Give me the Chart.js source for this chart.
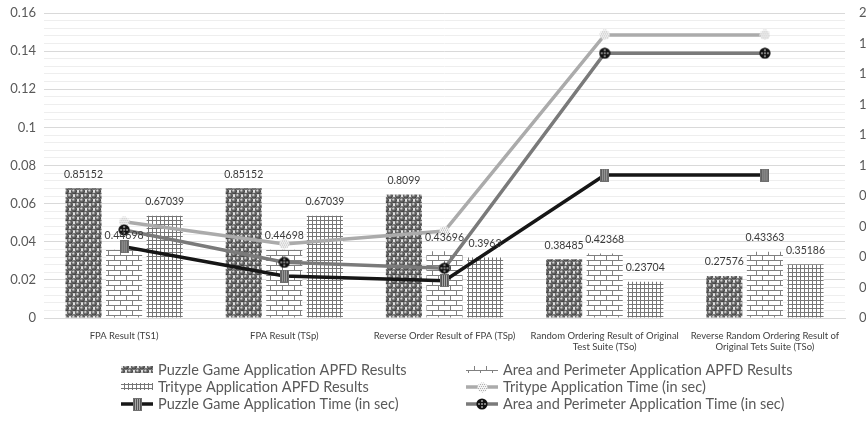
<!DOCTYPE html>
<html>
<head>
<meta charset="utf-8">
<script src="https://cdn.jsdelivr.net/npm/chart.js@4.4.1/dist/chart.umd.min.js"></script>
<style>
  html, body { margin: 0; padding: 0; background: #fff; overflow: hidden; width: 866px; height: 424px; }
  #wrap { position: relative; width: 892px; height: 424px; }
</style>
</head>
<body>
<div id="wrap"><canvas id="c" width="892" height="424"></canvas></div>
<script>
// ---- data ----
const categories = [
  'FPA Result (TS1)',
  'FPA Result (TSp)',
  'Reverse Order Result of FPA (TSp)',
  ['Random Ordering Result of Original', 'Test Suite (TSo)'],
  ['Reverse Random Ordering Result of', 'Original Tets Suite (TSo)']
];
// APFD results (right axis)
const puzzleApfd  = [0.85152, 0.85152, 0.8099, 0.38485, 0.27576];
const areaApfd    = [0.44698, 0.44698, 0.43696, 0.42368, 0.43363];
const tritypeApfd = [0.67039, 0.67039, 0.3963, 0.23704, 0.35186];
// execution times in seconds (left axis)
const tritypeTime = [0.0505, 0.0388, 0.0456, 0.1485, 0.1485];
const puzzleTime  = [0.0374, 0.0220, 0.0196, 0.0750, 0.0750];
const areaTime    = [0.0462, 0.0292, 0.0261, 0.1389, 0.1389];
// axis ranges
const timeAxis = { min: 0, max: 0.16, step: 0.02, minorStep: 0.004 };
const apfdAxis = { min: 0, max: 2, step: 0.2 };

const FONT = 'Lato, "Open Sans", sans-serif';

// ---- fill patterns and marker images ----
function tile(w, h, draw) {
  const c = document.createElement('canvas');
  c.width = w; c.height = h;
  draw(c.getContext('2d'), w, h);
  return c;
}
const ctx = document.getElementById('c').getContext('2d');

const ballTile = tile(8, 9, (g) => {
  g.fillStyle = '#e2e2e2';
  g.fillRect(0, 0, 8, 9);
  const centres = [[2, 2.25], [6, 6.75]];
  centres.forEach(([cx, cy]) => {
    for (const dx of [-8, 0, 8]) for (const dy of [-9, 0, 9]) {
      const x = cx + dx, y = cy + dy;
      const gr = g.createRadialGradient(x - 0.9, y - 1, 0.2, x, y, 3.1);
      gr.addColorStop(0, '#e8e8e8');
      gr.addColorStop(0.4, '#787878');
      gr.addColorStop(1, '#2a2a2a');
      g.fillStyle = gr;
      g.beginPath(); g.arc(x, y, 2.9, 0, Math.PI * 2); g.fill();
    }
  });
});
const brickTile = tile(12, 10, (g) => {
  g.fillStyle = '#fff'; g.fillRect(0, 0, 12, 10);
  g.fillStyle = '#808080';
  g.fillRect(0, 0, 12, 1);
  g.fillRect(0, 5, 12, 1);
  g.fillRect(0, 0, 1, 5);
  g.fillRect(6, 5, 1, 5);
});
const gridTile = tile(4, 4, (g) => {
  g.fillStyle = '#fff'; g.fillRect(0, 0, 4, 4);
  g.fillStyle = '#767676';
  g.fillRect(0, 0, 4, 1);
  g.fillRect(0, 0, 1, 4);
});
const ballFill  = ctx.createPattern(ballTile, 'repeat');
const brickFill = ctx.createPattern(brickTile, 'repeat');
const gridFill  = ctx.createPattern(gridTile, 'repeat');

const triMarker = tile(11, 11, (g) => {
  g.save();
  g.beginPath(); g.arc(5.5, 5.5, 5, 0, Math.PI * 2); g.clip();
  g.fillStyle = '#f4f4f4'; g.fillRect(0, 0, 11, 11);
  g.fillStyle = '#b0b0b0';
  for (let y = 0; y < 11; y += 2) for (let x = (y / 2) % 2; x < 11; x += 2) g.fillRect(x, y, 1, 1);
  g.restore();
});
const areaMarker = tile(12, 12, (g) => {
  g.fillStyle = '#111';
  g.beginPath(); g.arc(6, 6, 5.6, 0, Math.PI * 2); g.fill();
  g.fillStyle = '#9a9a9a';
  [[6, 3], [3, 6], [9, 6], [6, 9], [6, 6]].forEach(([x, y]) => {
    g.beginPath(); g.arc(x, y, 1.1, 0, Math.PI * 2); g.fill();
  });
});
const puzzleMarker = tile(9, 13, (g) => {
  g.fillStyle = '#a8a8a8';
  g.fillRect(0, 0, 9, 13);
  g.fillStyle = '#555';
  for (let x = 1; x < 9; x += 2) g.fillRect(x, 0, 1, 13);
  g.strokeStyle = '#707070'; g.lineWidth = 1;
  g.strokeRect(0.5, 0.5, 8, 12);
});

// ---- datasets ----
const datasets = [
  { type: 'bar',  label: 'Puzzle Game Application APFD Results', data: puzzleApfd, yAxisID: 'y2',
    backgroundColor: ballFill, order: 2, swatch: 'bar' },
  { type: 'bar',  label: 'Area and Perimeter Application APFD Results', data: areaApfd, yAxisID: 'y2',
    backgroundColor: brickFill, order: 2, swatch: 'bar' },
  { type: 'bar',  label: 'Tritype Application APFD Results', data: tritypeApfd, yAxisID: 'y2',
    backgroundColor: gridFill, order: 2, swatch: 'bar' },
  { type: 'line', label: 'Tritype Application Time (in sec)', data: tritypeTime, yAxisID: 'y',
    borderColor: '#ababab', borderWidth: 3.5, pointStyle: triMarker, order: 1, swatch: 'line' },
  { type: 'line', label: 'Puzzle Game Application Time (in sec)', data: puzzleTime, yAxisID: 'y',
    borderColor: '#161616', borderWidth: 3.5, pointStyle: puzzleMarker, order: 0, swatch: 'line' },
  { type: 'line', label: 'Area and Perimeter Application Time (in sec)', data: areaTime, yAxisID: 'y',
    borderColor: '#7a7a7a', borderWidth: 3.5, pointStyle: areaMarker, order: 0.5, swatch: 'line' }
];

// ---- value labels above the bars and the two-column legend ----
const legendCols = [121, 466];
const legendRows = [370, 387, 404];
const extras = {
  id: 'extras',
  afterDraw(chart) {
    const c = chart.ctx;
    c.save();
    c.font = '10.5px ' + FONT;
    c.fillStyle = '#3a3a3a';
    c.textAlign = 'center';
    c.textBaseline = 'middle';
    chart.data.datasets.forEach((ds, i) => {
      if (ds.type !== 'bar') return;
      chart.getDatasetMeta(i).data.forEach((el, j) => {
        c.fillText(String(ds.data[j]), el.x, el.y - 14);
      });
    });

    c.font = '14.5px ' + FONT;
    c.textAlign = 'left';
    chart.data.datasets.forEach((ds, i) => {
      const x = legendCols[i % 2];
      const y = legendRows[Math.floor(i / 2)];
      if (ds.swatch === 'bar') {
        c.fillStyle = ds.backgroundColor;
        c.fillRect(x, y - 4, 32, 7);
      } else {
        c.strokeStyle = ds.borderColor;
        c.lineWidth = ds.borderWidth;
        c.beginPath(); c.moveTo(x, y); c.lineTo(x + 32, y); c.stroke();
        const m = ds.pointStyle;
        c.drawImage(m, Math.round(x + 16 - m.width / 2), Math.round(y - m.height / 2));
      }
      c.fillStyle = '#595959';
      c.fillText(ds.label, x + 37, y);
    });
    c.restore();
  }
};

// value axes keep no extra padding of their own, so the plot spans exactly the layout box
function noPad(s) { s.paddingTop = 0; s.paddingBottom = 0; }

new Chart(ctx, {
  type: 'bar',
  data: { labels: categories, datasets },
  options: {
    responsive: false,
    animation: false,
    layout: { padding: { top: 13, bottom: 66, left: 0, right: 0 } },
    datasets: {
      bar: { categoryPercentage: 0.76, barPercentage: 0.89 },
      line: { tension: 0, fill: false, pointRadius: 6 }
    },
    plugins: { legend: { display: false }, tooltip: { enabled: false } },
    scales: {
      x: {
        grid: { display: false },
        border: { display: true, color: '#d9d9d9' },
        ticks: { color: '#404040', font: { family: FONT, size: 9.5, lineHeight: 1.2 },
                 maxRotation: 0, autoSkip: false, padding: 4 },
        afterFit(s) { s.height = 40; }
      },
      yMinor: {
        position: 'left', min: timeAxis.min, max: timeAxis.max,
        grid: { color: '#eeeeee', drawTicks: false, z: -2 },
        border: { display: false },
        ticks: { display: false, stepSize: timeAxis.minorStep, maxTicksLimit: 100 },
        afterFit(s) { s.width = 0; noPad(s); }
      },
      y: {
        position: 'left', min: timeAxis.min, max: timeAxis.max,
        grid: { color: '#d9d9d9', drawTicks: false },
        border: { display: false },
        ticks: { stepSize: timeAxis.step, color: '#595959', padding: 8,
                 font: { family: FONT, size: 13 },
                 callback: (v) => String(+v.toFixed(2)) },
        afterFit(s) { s.width = 44; noPad(s); }
      },
      y2: {
        position: 'right', min: apfdAxis.min, max: apfdAxis.max,
        grid: { drawOnChartArea: false, drawTicks: false },
        border: { display: false },
        ticks: { stepSize: apfdAxis.step, color: '#595959', padding: 14,
                 font: { family: FONT, size: 13 },
                 callback: (v) => String(+v.toFixed(1)) },
        afterFit(s) { s.width = 47; noPad(s); }
      }
    }
  },
  plugins: [extras]
});
</script>
</body>
</html>
